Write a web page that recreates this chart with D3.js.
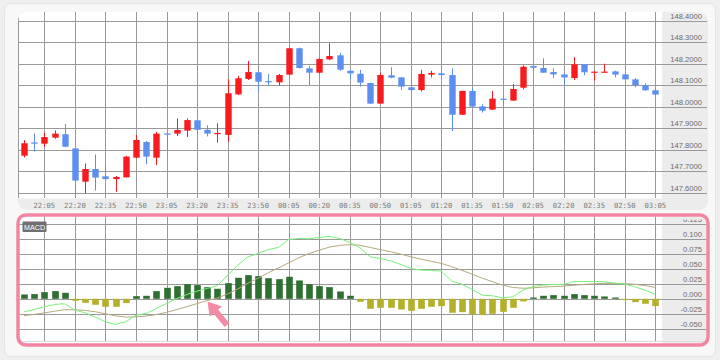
<!DOCTYPE html>
<html><head><meta charset="utf-8">
<script src="https://cdn.jsdelivr.net/npm/d3@7"></script>
<style>html,body{margin:0;padding:0;background:#efefef;} svg{display:block;}</style>
</head><body><svg id="c" width="720" height="360"></svg>
<script>
const times = ["21:55","22:00","22:05","22:10","22:15","22:20","22:25","22:30","22:35","22:40","22:45","22:50","22:55",
"23:00","23:05","23:10","23:15","23:20","23:25","23:30","23:35","23:40","23:45","23:50","23:55",
"00:00","00:05","00:10","00:15","00:20","00:25","00:30","00:35","00:40","00:45","00:50","00:55",
"01:00","01:05","01:10","01:15","01:20","01:25","01:30","01:35","01:40","01:45","01:50","01:55",
"02:00","02:05","02:10","02:15","02:20","02:25","02:30","02:35","02:40","02:45","02:50","02:55",
"03:00","03:05"];
const open = [147.772,147.834,147.828,147.856,147.872,147.806,147.651,147.710,147.676,147.663,147.671,147.763,147.836,
147.763,147.876,147.875,147.889,147.937,147.893,147.875,147.869,148.058,148.130,148.161,148.120,
148.114,148.150,148.273,148.179,148.159,148.221,148.240,148.168,148.154,148.111,148.015,148.147,
148.137,148.091,148.078,148.150,148.156,148.148,147.963,148.074,148.002,147.987,148.038,148.029,
148.089,148.190,148.181,148.162,148.151,148.134,148.198,148.161,148.161,148.165,148.151,148.128,
148.100,148.077];
const close = [147.830,147.828,147.859,147.875,147.814,147.656,147.710,147.670,147.663,147.673,147.768,147.845,147.768,
147.875,147.870,147.892,147.938,147.893,147.875,147.878,148.063,148.133,148.162,148.117,148.116,
148.148,148.273,148.181,148.159,148.223,148.237,148.173,148.156,148.113,148.015,148.148,148.136,
148.094,148.078,148.153,148.158,148.148,147.963,148.074,148.001,147.982,148.038,148.033,148.083,
148.187,148.182,148.159,148.151,148.137,148.198,148.161,148.164,148.164,148.150,148.128,148.100,
148.077,148.057];
const high = [147.845,147.876,147.879,147.890,147.920,147.808,147.736,147.778,147.736,147.677,147.771,147.869,147.841,
147.883,147.879,147.946,147.946,147.942,147.914,147.923,148.128,148.144,148.214,148.164,148.153,
148.153,148.276,148.276,148.190,148.226,148.296,148.252,148.172,148.172,148.113,148.159,148.184,
148.139,148.125,148.172,148.168,148.165,148.179,148.075,148.089,148.012,148.074,148.047,148.106,
148.193,148.193,148.226,148.179,148.153,148.232,148.200,148.165,148.201,148.168,148.154,148.134,
148.109,148.080];
const low = [147.764,147.791,147.814,147.851,147.811,147.573,147.597,147.609,147.659,147.604,147.670,147.760,147.732,
147.729,147.796,147.864,147.859,147.879,147.862,147.833,147.837,148.055,148.125,148.071,148.097,
148.100,148.148,148.178,148.102,148.156,148.218,148.168,148.128,148.094,148.013,148.013,148.133,
148.078,148.075,148.071,148.137,148.147,147.887,147.962,147.998,147.973,147.985,148.010,148.027,
148.081,148.168,148.158,148.133,148.102,148.125,148.147,148.123,148.159,148.137,148.125,148.091,
148.074,148.055];
const hist = [0.0072,0.0078,0.0111,0.0128,0.0100,-0.0033,-0.0067,-0.0100,-0.0133,-0.0133,
-0.0072,0.0044,0.0050,0.0128,0.0183,0.0211,0.0244,0.0228,0.0194,0.0167,
0.0261,0.0350,0.0394,0.0378,0.0344,0.0328,0.0367,0.0306,0.0244,0.0211,
0.0194,0.0122,0.0050,-0.0050,-0.0167,-0.0150,-0.0150,-0.0178,-0.0200,-0.0167,
-0.0133,-0.0122,-0.0233,-0.0222,-0.0261,-0.0272,-0.0250,-0.0217,-0.0150,-0.0044,
0.0022,0.0050,0.0061,0.0050,0.0078,0.0061,0.0050,0.0039,0.0022,-0.0022,
-0.0056,-0.0083,-0.0122];
const macd = [-0.0217,-0.0178,-0.0133,-0.0094,-0.0083,-0.0189,-0.0233,-0.0306,-0.0383,-0.0428,
-0.0383,-0.0272,-0.0244,-0.0161,-0.0078,0.0006,0.0072,0.0128,0.0172,0.0220,
0.0394,0.0561,0.0700,0.0756,0.0822,0.0856,0.0989,0.1006,0.1000,0.1022,
0.1039,0.1006,0.0939,0.0850,0.0700,0.0672,0.0633,0.0572,0.0506,0.0478,
0.0472,0.0461,0.0294,0.0244,0.0156,0.0061,0.0050,0.0017,0.0033,0.0144,
0.0206,0.0228,0.0239,0.0239,0.0289,0.0289,0.0289,0.0283,0.0261,0.0244,
0.0200,0.0144,0.0072];
const signal = [-0.0280,-0.0260,-0.0235,-0.0207,-0.0182,-0.0183,-0.0193,-0.0216,-0.0249,-0.0285,
-0.0305,-0.0300,-0.0288,-0.0262,-0.0225,-0.0180,-0.0130,-0.0080,-0.0030,0.0015,
0.0080,0.0165,0.0260,0.0345,0.0435,0.0515,0.0600,0.0685,0.0755,0.0810,
0.0862,0.0890,0.0902,0.0892,0.0855,0.0820,0.0785,0.0745,0.0700,0.0660,
0.0625,0.0590,0.0535,0.0475,0.0410,0.0345,0.0285,0.0228,0.0189,0.0176,
0.0183,0.0195,0.0204,0.0212,0.0226,0.0240,0.0250,0.0257,0.0257,0.0252,
0.0240,0.0220,0.0190];
const timeTicks = ["22:05","22:20","22:35","22:50","23:05","23:20","23:35","23:50","00:05","00:20","00:35",
"00:50","01:05","01:20","01:35","01:50","02:05","02:20","02:35","02:50","03:05"];
const priceTicks = [147.6,147.7,147.8,147.9,148.0,148.1,148.2,148.3,148.4];
const macdTicks = [-0.05,-0.025,0,0.025,0.05,0.075,0.1,0.125];

const svg = d3.select("#c");
const UP = "#f71a1f", DOWN = "#5d8ff0", GRID = "#999", AXBG = "#ececec";
const x = d3.scalePoint().domain(times).range([24, 655.3]);
const y = d3.scaleLinear().domain([147.6, 148.4]).range([192.6, 21]);
const ym = d3.scaleLinear().domain([-0.05, 0.125]).range([328.8, 223.8]);
const data = times.map((t,i)=>({t, o:open[i], h:high[i], l:low[i], c:close[i], hist:hist[i], m:macd[i], s:signal[i]}));

// page frame
svg.append("rect").attr("x",4.5).attr("y",3.5).attr("width",711).attr("height",353).attr("rx",7)
  .attr("fill","#f8f8f8").attr("stroke","#e4e4e4");

// ---------- top chart ----------
const defs = svg.append("defs");
defs.append("clipPath").attr("id","topclip").append("rect")
  .attr("x",18).attr("y",12).attr("width",690).attr("height",198).attr("rx",9);
defs.append("clipPath").attr("id","plotclip").append("rect")
  .attr("x",18).attr("y",12).attr("width",644).attr("height",186);
const topG = svg.append("g").attr("clip-path","url(#topclip)");
topG.append("rect").attr("x",18).attr("y",12).attr("width",690).attr("height",200).attr("fill","#fff");
topG.append("rect").attr("x",662).attr("y",12).attr("width",46).attr("height",200).attr("fill",AXBG);

// vertical grid
topG.selectAll("line.vg").data(timeTicks).join("line")
  .attr("x1",d=>Math.round(x(d))+0.5).attr("x2",d=>Math.round(x(d))+0.5)
  .attr("y1",12).attr("y2",198).attr("stroke",GRID).attr("stroke-width",1);
topG.append("line").attr("x1",18.5).attr("x2",18.5).attr("y1",12).attr("y2",198).attr("stroke",GRID);
// horizontal grid
topG.selectAll("line.hg").data(priceTicks).join("line")
  .attr("x1",18).attr("x2",707).attr("y1",d=>Math.round(y(d))+0.5).attr("y2",d=>Math.round(y(d))+0.5)
  .attr("stroke",GRID).attr("stroke-width",1);

// candles
const cg = topG.append("g").attr("clip-path","url(#plotclip)");
const bw = 6.4;
cg.selectAll("line.wick").data(data).join("line")
  .attr("x1",d=>Math.round(x(d.t))+0.5).attr("x2",d=>Math.round(x(d.t))+0.5)
  .attr("y1",d=>y(d.h)).attr("y2",d=>y(d.l))
  .attr("stroke",d=>d.c>=d.o?UP:DOWN).attr("stroke-width",1);
cg.selectAll("rect.body").data(data).join("rect")
  .attr("x",d=>Math.round(x(d.t))+0.5-bw/2).attr("width",bw)
  .attr("y",d=>y(Math.max(d.o,d.c))).attr("height",d=>Math.max(1.2,Math.abs(y(d.o)-y(d.c))))
  .attr("fill",d=>d.c>=d.o?UP:DOWN);

// time strip
topG.append("rect").attr("x",18).attr("y",198.5).attr("width",690).attr("height",12).attr("fill",AXBG);
topG.selectAll("text.tt").data(timeTicks).join("text")
  .attr("x",d=>x(d)).attr("y",207.5).attr("text-anchor","middle")
  .attr("font-family","DejaVu Sans Mono, monospace").attr("font-size",7.2).attr("fill","#7a7a7a")
  .text(d=>d);
// price labels
topG.selectAll("text.pt").data(priceTicks).join("text")
  .attr("x",702).attr("y",d=>y(d)-2).attr("text-anchor","end")
  .attr("font-family","Liberation Sans, Arial, sans-serif").attr("font-size",7.6).attr("fill","#6a6a6a")
  .text(d=>d.toFixed(4));

// ---------- MACD panel ----------
defs.append("clipPath").attr("id","mclip").append("rect")
  .attr("x",19.5).attr("y",216.5).attr("width",687).attr("height",127).attr("rx",6);
defs.append("clipPath").attr("id","lblclip").append("rect")
  .attr("x",600).attr("y",219.5).attr("width",110).attr("height",120);
svg.append("rect").attr("x",18).attr("y",215).attr("width",690).attr("height",130).attr("rx",8).attr("fill","#fff");
const mg = svg.append("g").attr("clip-path","url(#mclip)");
mg.append("rect").attr("x",662).attr("y",215).attr("width",46).attr("height",130).attr("fill",AXBG);
mg.append("line").attr("x1",18).attr("x2",707).attr("y1",341.5).attr("y2",341.5).attr("stroke","#dcdcdc");
mg.selectAll("line.vg").data(timeTicks).join("line")
  .attr("x1",d=>Math.round(x(d))+0.5).attr("x2",d=>Math.round(x(d))+0.5)
  .attr("y1",215).attr("y2",341).attr("stroke",GRID);
mg.selectAll("line.hg").data(macdTicks).join("line")
  .attr("x1",18).attr("x2",707).attr("y1",d=>Math.round(ym(d))+0.5).attr("y2",d=>Math.round(ym(d))+0.5)
  .attr("stroke",GRID);
mg.selectAll("rect.bar").data(data).join("rect")
  .attr("x",d=>Math.round(x(d.t))+0.5-3.3).attr("width",6.6)
  .attr("y",d=>d.hist>=0?ym(d.hist):ym(0)).attr("height",d=>Math.abs(ym(d.hist)-ym(0)))
  .attr("fill",d=>d.hist>=0?"#2e7031":"#b5b02c");
mg.append("path").datum(data).attr("fill","none").attr("stroke","#b4a97c").attr("stroke-width",1)
  .attr("d",d3.line().x(d=>x(d.t)).y(d=>ym(d.s)));
mg.append("path").datum(data).attr("fill","none").attr("stroke","#79f079").attr("stroke-width",1)
  .attr("d",d3.line().x(d=>x(d.t)).y(d=>ym(d.m)));
mg.append("g").attr("clip-path","url(#lblclip)").selectAll("text.mt").data(macdTicks).join("text")
  .attr("x",702).attr("y",d=>ym(d)-2).attr("text-anchor","end")
  .attr("font-family","Liberation Sans, Arial, sans-serif").attr("font-size",7.6).attr("fill","#6a6a6a")
  .text(d=>d.toFixed(3));
// MACD label
mg.append("rect").attr("x",22.5).attr("y",221.5).attr("width",24).attr("height",10.5).attr("rx",1).attr("fill","#707070");
mg.append("text").attr("x",34.5).attr("y",229.8).attr("text-anchor","middle")
  .attr("font-family","Liberation Sans, Arial, sans-serif").attr("font-size",7.2).attr("fill","#fff").text("MACD");
// pink border
svg.append("rect").attr("x",18).attr("y",215).attr("width",690).attr("height",130).attr("rx",8)
  .attr("fill","none").attr("stroke","#f2859f").attr("stroke-width",3.5);
// arrow annotation
svg.append("polygon").attr("fill","#f38aa6")
  .attr("points","207.5,301.5 222,306.4 218.1,309.6 229.3,323.1 224.7,326.9 213.5,313.4 209.6,316.6");
</script></body></html>
